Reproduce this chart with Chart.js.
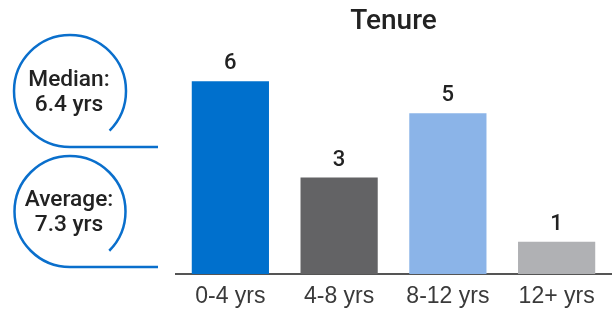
<!DOCTYPE html>
<html><head><meta charset="utf-8">
<script src="https://cdn.jsdelivr.net/npm/chart.js@4/dist/chart.umd.min.js"></script>
<style>html,body{margin:0;padding:0;background:#fff}#wrap{width:612px;height:311px}</style>
</head><body><div id="wrap"><canvas id="c" width="612" height="311"></canvas></div>
<script>
const categories = ["0-4 yrs", "4-8 yrs", "8-12 yrs", "12+ yrs"];
const counts = [6, 3, 5, 1];
const barColors = ["#0070CD", "#636365", "#8BB4E8", "#B0B1B4"];
const chartTitle = "Tenure";
const statLabels = ["Median:", "Average:"];
const statValues = ["6.4 yrs", "7.3 yrs"];

const valueLabels = {
  id: 'valueLabels',
  afterDatasetsDraw(chart) {
    const ctx = chart.ctx;
    const meta = chart.getDatasetMeta(0);
    ctx.save();
    ctx.font = '500 22px Roboto';
    ctx.fillStyle = '#222';
    ctx.textAlign = 'center';
    ctx.textBaseline = 'alphabetic';
    meta.data.forEach((bar, i) => {
      ctx.fillText(String(counts[i]), bar.x, bar.y - 12);
    });
    ctx.restore();
  }
};

const statBubbles = {
  id: 'statBubbles',
  afterDraw(chart) {
    const ctx = chart.ctx;
    const bubbles = [{cx: 70, cy: 91, r: 56}, {cx: 70, cy: 211.5, r: 55.5}];
    ctx.save();
    ctx.strokeStyle = '#0A6FCC';
    ctx.lineWidth = 2.5;
    bubbles.forEach((b, i) => {
      ctx.beginPath();
      ctx.moveTo(158, b.cy + b.r);
      ctx.lineTo(b.cx, b.cy + b.r);
      ctx.arc(b.cx, b.cy, b.r, Math.PI / 2, Math.PI * 2 + Math.PI / 4, false);
      ctx.stroke();
      ctx.fillStyle = '#222';
      ctx.font = '500 22.7px Roboto';
      ctx.textAlign = 'center';
      ctx.textBaseline = 'middle';
      ctx.fillText(statLabels[i], b.cx - 1, b.cy - 11);
      ctx.fillText(statValues[i], b.cx - 1, b.cy + 14);
    });
    ctx.restore();
  }
};

new Chart(document.getElementById('c'), {
  type: 'bar',
  data: {
    labels: categories,
    datasets: [{
      data: counts,
      backgroundColor: barColors,
      borderWidth: 0,
      categoryPercentage: 1,
      barPercentage: 0.71
    }]
  },
  options: {
    responsive: false,
    animation: false,
    layout: { padding: { left: 176, right: 1, top: 0, bottom: 0 } },
    plugins: {
      legend: { display: false },
      tooltip: { enabled: false },
      title: {
        display: true,
        text: chartTitle,
        color: '#222',
        font: { family: 'Roboto', size: 28, weight: '500' },
        padding: { top: 5.2, bottom: 10.2 }
      }
    },
    scales: {
      x: {
        grid: { display: false, drawTicks: false },
        border: { display: true, color: '#555', width: 2 },
        ticks: { color: '#3a3a3a', font: { family: 'Liberation Sans', size: 23 }, padding: 9 },
        afterFit(scale) { scale.height = 37; }
      },
      y: { display: false, min: 0, max: 7 }
    }
  },
  plugins: [valueLabels, statBubbles]
});
</script>
</body></html>
